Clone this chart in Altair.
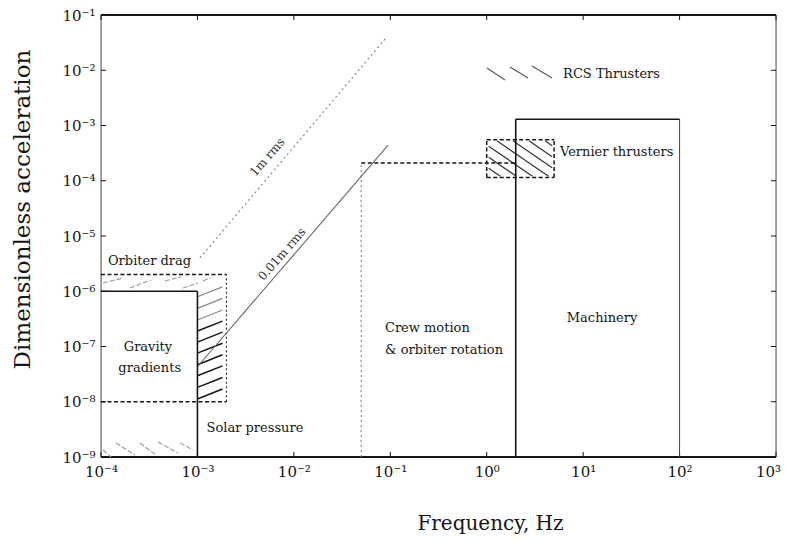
import altair as alt
import pandas as pd
import math

# ---------------- data ----------------
freq_decades = [-4, -3, -2, -1, 0, 1, 2, 3]
accel_decades = [-9, -8, -7, -6, -5, -4, -3, -2, -1]
x_tick_labels = ["10⁻⁴", "10⁻³", "10⁻²", "10⁻¹", "10⁰", "10¹", "10²", "10³"]
y_tick_labels = ["10⁻⁹", "10⁻⁸", "10⁻⁷", "10⁻⁶", "10⁻⁵", "10⁻⁴", "10⁻³", "10⁻²", "10⁻¹"]

# region boundaries (Hz, dimensionless acceleration)
gravity_f = [1e-4, 1e-3]
gravity_a = [1e-9, 1e-6]
drag_f = [1e-4, 2e-3]
drag_a = [1e-8, 2e-6]
crew_f = [0.05, 2.0]
crew_a_top = 2.1e-4
machinery_f = [2.0, 100.0]
machinery_a = [1e-9, 1.3e-3]
vernier_f = [1.0, 5.0]
vernier_a = [1.15e-4, 5.5e-4]

# rms displacement lines (end points)
rms1_f = [1.06e-3, 0.092]
rms1_a = [4.0e-6, 0.040]
rms001_f = [1.0e-3, 0.095]
rms001_a = [4.3e-8, 4.4e-4]

# hatch strokes, as log10 exponents (x0, y0, x1, y1)
drag_band_strokes = [(-3.979, -5.851, -3.772, -5.760), (-3.699, -5.942, -3.482, -5.797),
                     (-3.337, -5.815, -3.171, -5.742), (-3.150, -5.942, -2.994, -5.851),
                     (-2.942, -5.815, -2.870, -5.760)]
solar_strokes = [(-3.979, -8.873, -3.896, -9.0), (-3.844, -8.747, -3.647, -8.964),
                 (-3.596, -8.747, -3.430, -8.964), (-3.409, -8.729, -3.201, -8.928),
                 (-3.181, -8.747, -3.046, -8.873)]
rcs_legend_strokes = [(0.003, -1.959, 0.190, -2.176), (0.241, -1.941, 0.428, -2.140),
                      (0.470, -1.923, 0.677, -2.140)]
side_band_start = [-7.95, -7.74, -7.53, -7.33, -7.12, -6.92, -6.72, -6.52, -6.31, -6.10]
side_band_dark = [True, True, True, True, True, True, True, False, False, False]
vernier_hatch_c = [-3.75, -3.55, -3.35, -3.15, -2.95, -2.75, -2.55]

# annotations
label_left = ["Orbiter drag", "Crew motion", "& orbiter rotation", "Vernier thrusters", "RCS Thrusters"]
label_left_f = [1.18e-4, 0.088, 0.088, 5.75, 6.2]
label_left_a = [3.5e-6, 2.16e-7, 8.65e-8, 3.3e-4, 8.5e-3]
label_center = ["Gravity", "gradients", "Solar pressure", "Machinery"]
label_center_f = [3.07e-4, 3.2e-4, 3.95e-3, 15.7]
label_center_a = [9.8e-8, 4.1e-8, 3.35e-9, 3.3e-7]
label_rot = ["1m rms", "0.01m rms"]
label_rot_f = [5.3e-3, 7.5e-3]
label_rot_a = [2.7e-4, 4.7e-6]

# ---------------- build ----------------
W, H = 675, 442
FONT = "DejaVu Serif"
INK = "#151515"
GREY = "#8a8a8a"

x_vals = [10.0 ** d for d in freq_decades]
y_vals = [10.0 ** d for d in accel_decades]

xlab_expr = "[" + ",".join("'%s'" % s for s in x_tick_labels) + "][round(log(datum.value)/LN10) + 4]"
ylab_expr = "[" + ",".join("'%s'" % s for s in y_tick_labels) + "][round(log(datum.value)/LN10) + 9]"

xs = alt.Scale(type="log", domain=[x_vals[0], x_vals[-1]], nice=False)
ys = alt.Scale(type="log", domain=[y_vals[0], y_vals[-1]], nice=False)

xaxis = alt.Axis(values=x_vals, labelExpr=xlab_expr, ticks=False, domain=False, grid=False,
                 labelFont=FONT, labelFontSize=15, labelColor=INK, labelPadding=7,
                 labelOffset={"condition": {"test": "datum.value >= %g" % x_vals[-1], "value": -8},
                              "value": 0},
                 labelFlush=False, labelOverlap=False, labelBound=False,
                 title="Frequency, Hz", titleFont=FONT, titleFontSize=20, titleFontWeight="normal",
                 titleColor=INK, titleX=389, titleY=66, titleAlign="center", titleBaseline="middle")
yaxis = alt.Axis(values=y_vals, labelExpr=ylab_expr, ticks=False, domain=False, grid=False,
                 labelFont=FONT, labelFontSize=15, labelColor=INK, labelPadding=6,
                 labelOverlap=False, labelBound=False, labelFlush=False,
                 title="Dimensionless acceleration", titleFont=FONT, titleFontSize=23,
                 titleFontWeight="normal", titleColor=INK, titleX=-79, titleY=194,
                 titleAngle=270, titleAlign="center", titleBaseline="middle")


def X(f="x"):
    return alt.X(f + ":Q", scale=xs, axis=xaxis)


def Y(f="y"):
    return alt.Y(f + ":Q", scale=ys, axis=yaxis)


def seg_df(segs):
    return pd.DataFrame(segs, columns=["x", "y", "x2", "y2"])


def rules(segs, **kw):
    return alt.Chart(seg_df(segs)).mark_rule(**kw).encode(x=X(), y=Y(), x2="x2:Q", y2="y2:Q")


def from_log(strokes):
    return [(10 ** a, 10 ** b, 10 ** c, 10 ** d) for a, b, c, d in strokes]


# frame
xmin, xmax = x_vals[0], x_vals[-1]
ymin, ymax = y_vals[0], y_vals[-1]
frame_thick = rules([(xmin, ymax, xmax, ymax), (xmin, ymin, xmax, ymin)], color=INK, strokeWidth=2)
frame_thin = rules([(xmin, ymin, xmin, ymax), (xmax, ymin, xmax, ymax)], color="#555", strokeWidth=1)

# inward ticks
ydf = pd.DataFrame({"v": y_vals})
xdf = pd.DataFrame({"v": x_vals})
tick_kw = dict(color=INK, strokeWidth=1)
ticks = [
    alt.Chart(ydf).mark_rule(**tick_kw).encode(y=Y("v"), x=alt.value(0), x2=alt.value(5)),
    alt.Chart(ydf).mark_rule(**tick_kw).encode(y=Y("v"), x=alt.value(W - 5), x2=alt.value(W)),
    alt.Chart(xdf).mark_rule(**tick_kw).encode(x=X("v"), y=alt.value(0), y2=alt.value(5)),
    alt.Chart(xdf).mark_rule(**tick_kw).encode(x=X("v"), y=alt.value(H - 5), y2=alt.value(H)),
]

# solid boxes
solid = rules([
    (gravity_f[0], gravity_a[1], gravity_f[1], gravity_a[1]),
    (gravity_f[1], gravity_a[0], gravity_f[1], gravity_a[1]),
    (machinery_f[0], machinery_a[1], machinery_f[1], machinery_a[1]),
    (machinery_f[0], machinery_a[0], machinery_f[0], machinery_a[1]),
], color=INK, strokeWidth=1.6)
solid_thin = rules([(machinery_f[1], machinery_a[0], machinery_f[1], machinery_a[1])],
                   color="#444", strokeWidth=1)

# dashed boxes
dashed = rules([
    (drag_f[0], drag_a[1], drag_f[1], drag_a[1]),
    (drag_f[0], drag_a[0], drag_f[1], drag_a[0]),
    (crew_f[0], crew_a_top, crew_f[1], crew_a_top),
    (vernier_f[0], vernier_a[0], vernier_f[1], vernier_a[0]),
    (vernier_f[0], vernier_a[1], vernier_f[1], vernier_a[1]),
    (vernier_f[0], vernier_a[0], vernier_f[0], vernier_a[1]),
    (vernier_f[1], vernier_a[0], vernier_f[1], vernier_a[1]),
], color=INK, strokeWidth=1.5, strokeDash=[4, 2.5])
dotted_dark = rules([(drag_f[1], drag_a[0], drag_f[1], drag_a[1])],
                    color="#333", strokeWidth=1.2, strokeDash=[2, 2.5])
dotted = rules([
    (crew_f[0], ymin, crew_f[0], crew_a_top),
    (rms1_f[0], rms1_a[0], rms1_f[1], rms1_a[1]),
], color=GREY, strokeWidth=1.2, strokeDash=[2, 3])
rms_line = rules([(rms001_f[0], rms001_a[0], rms001_f[1], rms001_a[1])], color="#666", strokeWidth=1.1)

# hatching
light_hatch = rules(from_log(drag_band_strokes + solar_strokes), color="#9a9a9a", strokeWidth=1.1,
                    strokeDash=[5, 2])
legend_hatch = rules(from_log(rcs_legend_strokes), color="#555", strokeWidth=1.1)
lx0, lx1 = -3.0, -2.74
dark_side = [(lx0, s, lx1, s + 0.18) for s, d in zip(side_band_start, side_band_dark) if d]
light_side = [(lx0, s, lx1, s + 0.18) for s, d in zip(side_band_start, side_band_dark) if not d]
side_dark = rules(from_log(dark_side), color=INK, strokeWidth=1.5)
side_light = rules(from_log(light_side), color="#888", strokeWidth=1.2)


def clip_lines(cs, slope, bx0, bx1, by0, by1):
    out = []
    for c in cs:
        xa, xb = (by0 - c) / slope, (by1 - c) / slope
        lo, hi = max(bx0, min(xa, xb)), min(bx1, max(xa, xb))
        if hi > lo:
            out.append((lo, c + slope * lo, hi, c + slope * hi))
    return out


vh = clip_lines(vernier_hatch_c, -1.2, math.log10(vernier_f[0]) + 0.02, math.log10(vernier_f[1]) - 0.02,
                math.log10(vernier_a[0]) + 0.02, math.log10(vernier_a[1]) - 0.02)
vernier_hatch = rules(from_log(vh), color="#333", strokeWidth=1.2)

# labels
txt_kw = dict(font=FONT, fontSize=13, color=INK, baseline="middle")
left_df = pd.DataFrame({"x": label_left_f, "y": label_left_a, "t": label_left})
center_df = pd.DataFrame({"x": label_center_f, "y": label_center_a, "t": label_center})
rot_df = pd.DataFrame({"x": label_rot_f, "y": label_rot_a, "t": label_rot})
labels = [
    alt.Chart(left_df).mark_text(align="left", **txt_kw).encode(x=X(), y=Y(), text="t:N"),
    alt.Chart(center_df).mark_text(align="center", **txt_kw).encode(x=X(), y=Y(), text="t:N"),
    alt.Chart(rot_df).mark_text(align="center", angle=311, font=FONT, fontSize=12, color="#333",
                                baseline="middle").encode(x=X(), y=Y(), text="t:N"),
]

chart = alt.layer(
    frame_thin, frame_thick, *ticks, light_hatch, legend_hatch, side_light, side_dark, vernier_hatch,
    dotted, dotted_dark, rms_line, solid_thin, solid, dashed, *labels
).properties(
    width=W, height=H,
    autosize=alt.AutoSizeParams(type="none"),
    padding={"left": 93, "top": 7, "right": 5, "bottom": 78},
).configure_view(stroke=None).configure(background="white")

chart.save("out.html", embed_options={"renderer": "svg", "actions": False})
